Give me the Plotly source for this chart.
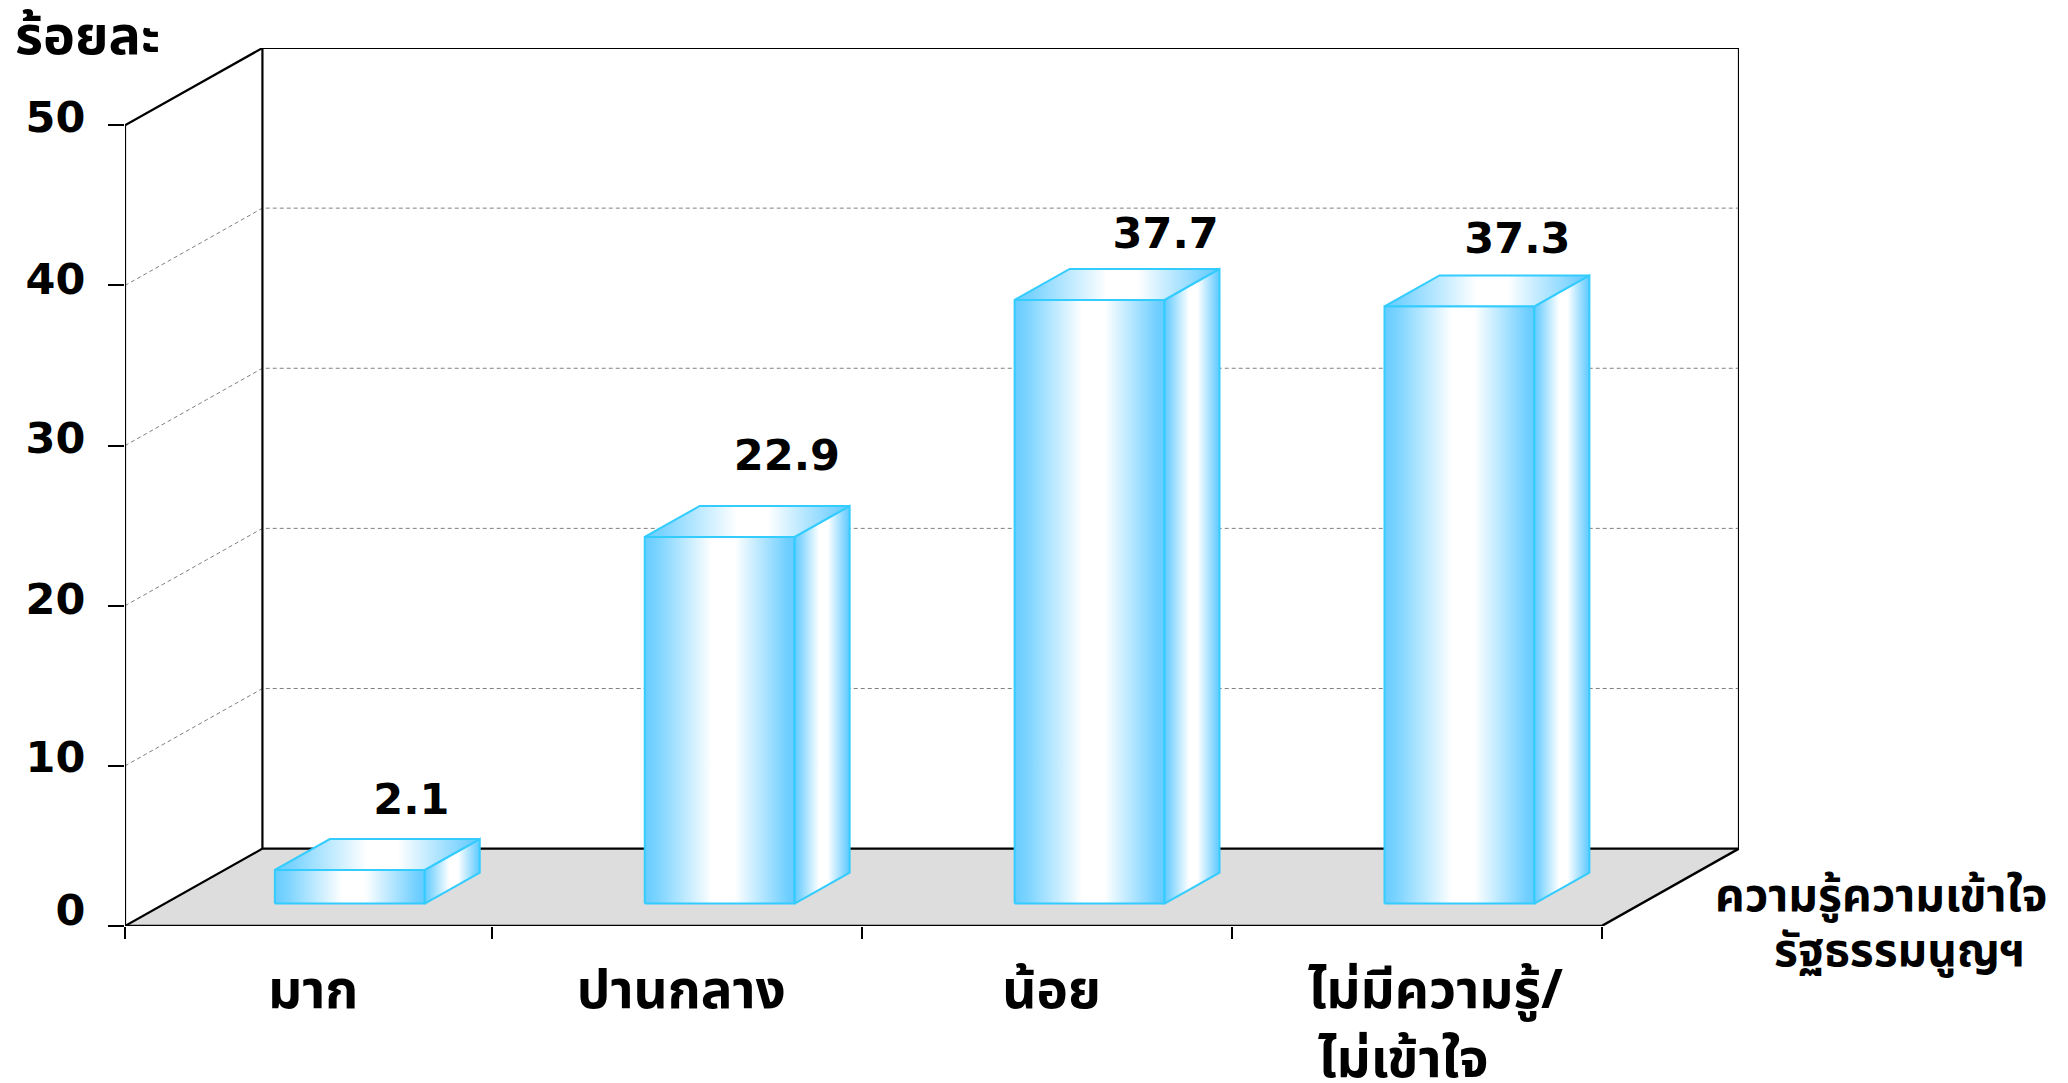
import plotly.graph_objects as go

categories = ["มาก", "ปานกลาง", "น้อย", "ไม่มีความรู้/"]
values = [2.1, 22.9, 37.7, 37.3]
value_labels = ["2.1", "22.9", "37.7", "37.3"]
y_ticks = [0, 10, 20, 30, 40, 50]
y_tick_labels = ["0", "10", "20", "30", "40", "50"]
grid_levels = [10, 20, 30, 40]
x_ticks = [0, 0.993, 1.996, 3, 4]
x_label_pos = [0.51, 1.507, 2.51, 3.55]

# geometry, in axis units
DX, DY = 0.3723, 4.83            # depth of the box
BAR_GAP, BAR_W = 0.406, 0.406    # bar front face within a category
BAR_STEP = 1.002
BAR_DX, BAR_DY = 0.149, 1.93     # depth of a bar
BASE = 1.4                       # bars stand this far up the floor
label_dx = [0.370, 0.385, 0.409, 0.360]
label_dy = [4.17, 4.87, 3.94, 4.0]
y_label_nudge = [1.0, 0.55, 0.4, 0.45, 0.4, 0.5]

BLACK = "#000000"
EDGE = "#33CCFF"
CYAN = "#66CCFF"
GRID = "#808080"
FLOOR = "#DDDDDD"
NUM_FONT = dict(family="DejaVu Sans", size=43, color=BLACK, weight="bold")
THAI = "Noto Sans Thai, Noto Sans, Loma, Garuda, DejaVu Sans"

fig = go.Figure()

def line(xs, ys, color=BLACK, width=2, dash="solid"):
    fig.add_trace(go.Scatter(x=xs, y=ys, mode="lines", hoverinfo="skip",
                             line=dict(color=color, width=width, dash=dash)))

fig.add_trace(go.Scatter(x=[0, 4, 4 + DX, DX, 0], y=[0, 0, DY, DY, 0], mode="lines",
                         fill="toself", fillcolor=FLOOR, line=dict(width=0), hoverinfo="skip"))
for v in grid_levels:
    line([0, DX, 4 + DX], [v, v + DY, v + DY], GRID, 1, "4px,3px")

line([0, 0, DX, 4 + DX, 4 + DX, DX, 0], [0, 50, 50 + DY, 50 + DY, DY, DY, 0], BLACK, 2.2)
line([DX, DX], [DY, 50 + DY], BLACK, 2.2)
line([0, 4, 4 + DX], [0, 0, DY], BLACK, 2.5)

scale = [[0, CYAN], [0.08, "#7AD3FF"], [0.45, "#FFFFFF"], [0.6, "#FFFFFF"], [0.95, "#70CFFF"], [1, CYAN]]
def face(xs, ys):
    fig.add_trace(go.Scatter(x=xs, y=ys, mode="lines", fill="toself", hoverinfo="skip",
                             fillgradient=dict(type="horizontal", colorscale=scale),
                             line=dict(color=EDGE, width=2)))

for i, v in enumerate(values):
    x0 = i * BAR_STEP + BAR_GAP
    x1 = x0 + BAR_W
    y0 = BASE
    y1 = BASE + v
    face([x0, x1, x1, x0, x0], [y0, y0, y1, y1, y0])
    face([x1, x1 + BAR_DX, x1 + BAR_DX, x1, x1], [y0, y0 + BAR_DY, y1 + BAR_DY, y1, y0])
    face([x0, x1, x1 + BAR_DX, x0 + BAR_DX, x0], [y1, y1, y1 + BAR_DY, y1 + BAR_DY, y1])

fig.add_trace(go.Scatter(
    x=[i * BAR_STEP + BAR_GAP + d for i, d in enumerate(label_dx)],
    y=[BASE + v + d for v, d in zip(values, label_dy)],
    mode="text", text=value_labels, textposition="middle center",
    textfont=NUM_FONT, hoverinfo="skip"))

# carries the shifted y tick labels
fig.add_trace(go.Scatter(x=[0], y=[0], yaxis="y2", mode="markers",
                         marker=dict(opacity=0), hoverinfo="skip"))

X_RANGE = [0, 4 + DX]
Y_RANGE = [0, 50 + DY]
fig.update_layout(
    width=2068, height=1083, autosize=False,
    margin=dict(l=124.5, r=328.5, t=48, b=157.3),
    paper_bgcolor="white", plot_bgcolor="white", showlegend=False,
    xaxis=dict(range=X_RANGE, showgrid=False, zeroline=False, showline=False,
               tickmode="array", tickvals=x_label_pos,
               ticktext=categories, ticks="", ticklen=0, ticklabelstandoff=28,
               tickfont=dict(family=THAI, size=53, color=BLACK, weight="bold"),
               minor=dict(tickmode="array", tickvals=x_ticks, ticks="outside",
                          ticklen=12, tickwidth=1.5, tickcolor=BLACK, showgrid=False)),
    yaxis=dict(range=Y_RANGE, showgrid=False, zeroline=False, showline=False,
               tickmode="array", tickvals=y_ticks, ticktext=[""] * len(y_ticks),
               ticks="outside", ticklen=16, tickwidth=2, tickcolor=BLACK),
    yaxis2=dict(range=Y_RANGE, overlaying="y", side="left", showgrid=False, zeroline=False,
                showline=False, tickmode="array",
                tickvals=[t + n for t, n in zip(y_ticks, y_label_nudge)],
                ticktext=y_tick_labels, ticks="outside", ticklen=30, tickcolor="rgba(0,0,0,0)",
                tickfont=NUM_FONT),
    annotations=[
        dict(xref="paper", yref="paper", x=-0.0235, y=1.012, text="ร้อยละ", showarrow=False,
             xanchor="center", yanchor="middle", font=dict(family=THAI, size=54, weight="bold", color=BLACK)),
        dict(xref="paper", yref="paper", x=1.0882, y=0.0328, text="ความรู้ความเข้าใจ",
             showarrow=False, xanchor="center", yanchor="middle",
             font=dict(family=THAI, size=46, weight="bold", color=BLACK)),
        dict(xref="paper", yref="paper", x=1.0997, y=-0.030, text="รัฐธรรมนูญฯ",
             showarrow=False, xanchor="center", yanchor="middle",
             font=dict(family=THAI, size=46, weight="bold", color=BLACK)),
        dict(xref="x", yref="paper", x=3.464, y=-0.154, text="ไม่เข้าใจ", showarrow=False,
             xanchor="center", yanchor="middle", font=dict(family=THAI, size=53, weight="bold", color=BLACK)),
    ],
)

fig.write_html("out.html", config=dict(displayModeBar=False),
               post_script="document.body.style.margin='0';document.body.style.overflow='hidden';")
